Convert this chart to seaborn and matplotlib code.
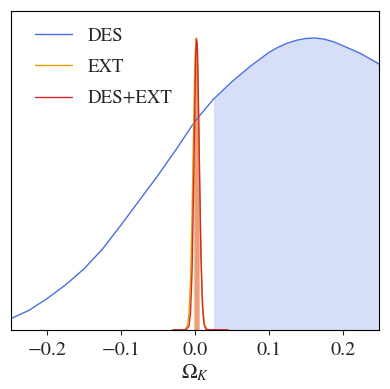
"""
Marginal posterior of Omega_K for DES, EXT and DES+EXT
"""

import matplotlib
matplotlib.use("Agg")
import matplotlib.pyplot as plt
import seaborn as sns
import pandas as pd

sns.set_theme(style="ticks")
plt.rcParams["font.family"] = ["STIXGeneral", "DejaVu Serif"]
plt.rcParams["mathtext.fontset"] = "stix"

# DES posterior (normalised to peak = 1)
des_x = [-0.25, -0.225, -0.2, -0.175, -0.15, -0.125, -0.1, -0.075, -0.05, -0.025,
         0.0, 0.025, 0.05, 0.075, 0.1, 0.1125, 0.125, 0.1375, 0.15, 0.1625, 0.175,
         0.1875, 0.2, 0.225, 0.25]
des_p = [0.038, 0.067, 0.108, 0.155, 0.210, 0.278, 0.360, 0.445, 0.530, 0.620,
         0.715, 0.790, 0.850, 0.903, 0.950, 0.968, 0.982, 0.992, 0.998, 1.0, 0.996,
         0.987, 0.974, 0.946, 0.910]

# EXT posterior
ext_x = [-0.03, -0.014, -0.010, -0.008, -0.006, -0.004, -0.002, 0.0, 0.0015,
         0.003, 0.005, 0.007, 0.009, 0.011, 0.013, 0.017, 0.045]
ext_p = [0.0, 0.0005, 0.016, 0.06, 0.172, 0.389, 0.682, 0.932, 1.0,
         0.932, 0.682, 0.389, 0.172, 0.06, 0.016, 0.0005, 0.0]

# DES+EXT posterior
comb_x = [-0.03, -0.012, -0.008, -0.006, -0.004, -0.002, 0.0, 0.001, 0.002, 0.003,
          0.004, 0.006, 0.008, 0.010, 0.012, 0.015, 0.045]
comb_p = [0.0, 0.0002, 0.013, 0.060, 0.198, 0.47, 0.80, 0.934, 0.996, 0.98,
          0.89, 0.57, 0.265, 0.089, 0.022, 0.001, 0.0]

# shaded intervals
des_lo, des_hi = 0.025, 0.25
ext_lo, ext_hi = -0.0025, 0.0055
comb_lo, comb_hi = -0.0012, 0.0056

colors = {"DES": "#4a6fe3", "EXT": "#e69f00", "DES+EXT": "#d42a2a"}

df = pd.concat([
    pd.DataFrame({"x": des_x, "p": des_p, "sample": "DES"}),
    pd.DataFrame({"x": ext_x, "p": ext_p, "sample": "EXT"}),
    pd.DataFrame({"x": comb_x, "p": comb_p, "sample": "DES+EXT"}),
])

fig, ax = plt.subplots(figsize=(3.9, 3.89), dpi=100)
fig.subplots_adjust(left=0.027, right=0.973, top=0.973, bottom=0.152)


def value_at(xs, ps, x0):
    s = pd.Series(ps, index=xs)
    s = s.reindex(sorted(set(xs) | {x0})).interpolate(method="index")
    return float(s.loc[x0])


def shade(xs, ps, lo, hi, color, alpha):
    inner = [(x, p) for x, p in zip(xs, ps) if lo < x < hi]
    edge_x = [lo] + [x for x, _ in inner] + [hi]
    edge_p = [value_at(xs, ps, lo)] + [p for _, p in inner] + [value_at(xs, ps, hi)]
    ax.fill_between(edge_x, 0, edge_p, color=color, alpha=alpha, linewidth=0)


shade(des_x, des_p, des_lo, des_hi, colors["DES"], 0.22)
shade(ext_x, ext_p, ext_lo, ext_hi, colors["EXT"], 0.35)
shade(comb_x, comb_p, comb_lo, comb_hi, colors["DES+EXT"], 0.35)

sns.lineplot(data=df, x="x", y="p", hue="sample", palette=colors,
             linewidth=1.0, sort=True, ax=ax)

ax.set_xlim(-0.25, 0.25)
ax.set_ylim(0, 1.094)
ax.set_yticks([])
ax.set_xticks([-0.2, -0.1, 0.0, 0.1, 0.2])
ax.set_xticklabels(["\u22120.2", "\u22120.1", "0.0", "0.1", "0.2"])
ax.tick_params(axis="x", labelsize=14.5, length=3.5, width=0.8, pad=5)
ax.set_xlabel(r"$\Omega_K$", fontsize=15, labelpad=3)
ax.set_ylabel("")

for s in ax.spines.values():
    s.set_color("black")
    s.set_linewidth(0.8)

ax.legend(title=None, loc="upper left", bbox_to_anchor=(0.045, 0.97),
          frameon=False, fontsize=13.5, labelspacing=0.75, handlelength=2.0,
          handletextpad=0.85, borderaxespad=0.0)

fig.savefig("out.png", dpi=100)
plt.close(fig)
